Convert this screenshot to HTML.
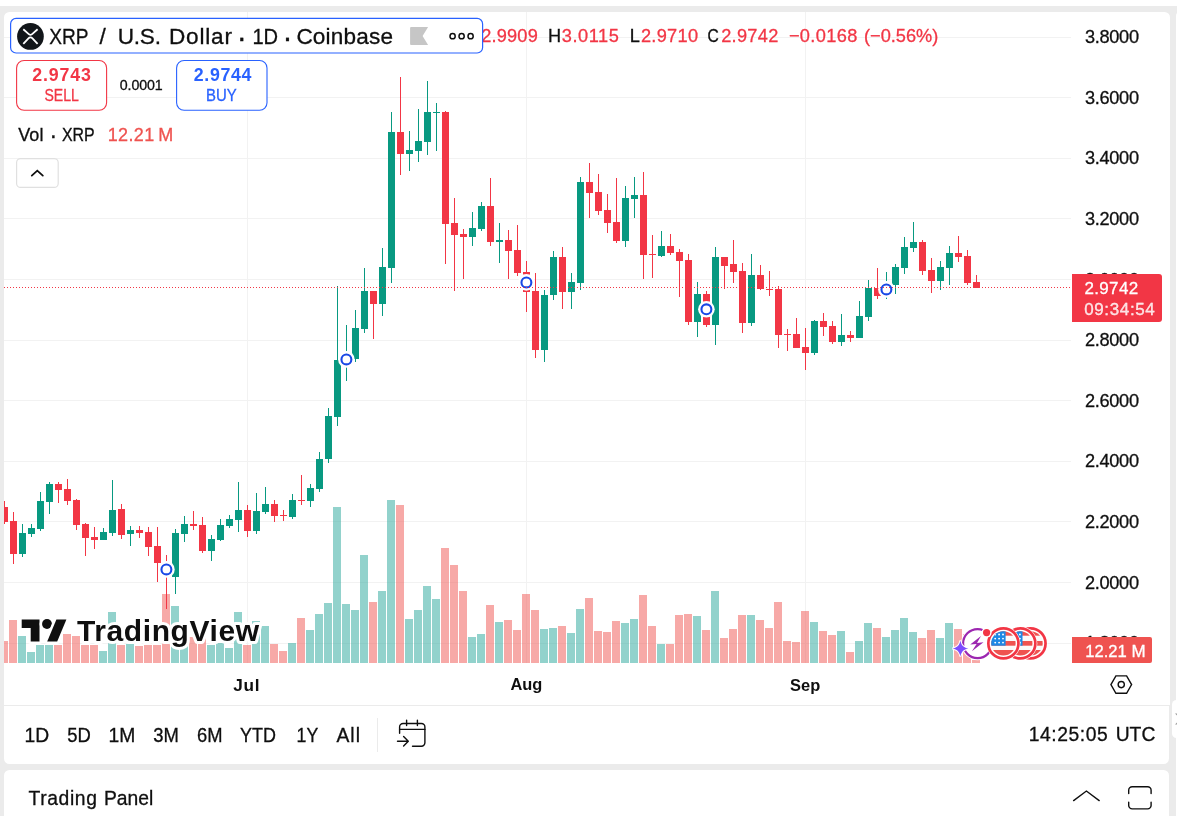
<!DOCTYPE html>
<html lang="en">
<head>
<meta charset="utf-8">
<title>XRPUSD Chart</title>
<style>
*{box-sizing:border-box;margin:0;padding:0}
html,body{width:1177px;height:816px;overflow:hidden;background:#ebebeb}
body{position:relative;font-family:"Liberation Sans","DejaVu Sans",sans-serif;color:#0f0f0f}
.abs{position:absolute}
#topstrip{left:0;top:0;width:1177px;height:6px;background:#fff}
#main{left:4px;top:12px;width:1166px;height:694px;background:#fff;border-radius:5.5px 5.5px 0 0}
#tool{left:4px;top:706px;width:1165px;height:58px;background:#fff;border-radius:0 0 5.5px 5.5px}
#bottom{left:4px;top:770px;width:1165px;height:60px;background:#fff;border-radius:5.5px}
#right{left:1176px;top:12px;width:10px;height:810px;background:#fff;border-radius:4px 0 0 0}
#handle{left:1171.7px;top:700.3px;width:10px;height:37.6px;background:#fff;border-radius:4.5px}
#chart{left:0;top:0}
#sep1{left:4px;top:705px;width:1165.5px;height:1px;background:#ebebeb}
#vsep{left:377px;top:718px;width:1px;height:34px;background:#ebebeb}
</style>
</head>
<body>
<div class="abs" id="topstrip"></div>
<div class="abs" id="main"></div>
<div class="abs" id="tool"></div>
<div class="abs" id="bottom"></div>
<div class="abs" id="right"></div>
<div class="abs" id="handle"></div>
<div class="abs" id="sep1"></div>
<div class="abs" id="vsep"></div>
<svg class="abs" id="chart" width="1177" height="816" viewBox="0 0 1177 816" font-family="'Liberation Sans','DejaVu Sans',sans-serif">
<g shape-rendering="crispEdges">
<rect x="4" y="37" width="1067" height="1" fill="#f2f2f2"/>
<rect x="4" y="97" width="1067" height="1" fill="#f2f2f2"/>
<rect x="4" y="158" width="1067" height="1" fill="#f2f2f2"/>
<rect x="4" y="218" width="1067" height="1" fill="#f2f2f2"/>
<rect x="4" y="279" width="1067" height="1" fill="#f2f2f2"/>
<rect x="4" y="340" width="1067" height="1" fill="#f2f2f2"/>
<rect x="4" y="400" width="1067" height="1" fill="#f2f2f2"/>
<rect x="4" y="461" width="1067" height="1" fill="#f2f2f2"/>
<rect x="4" y="521" width="1067" height="1" fill="#f2f2f2"/>
<rect x="4" y="582" width="1067" height="1" fill="#f2f2f2"/>
<rect x="4" y="643" width="1067" height="1" fill="#f2f2f2"/>
<rect x="247" y="12" width="1" height="651" fill="#f2f2f2"/>
<rect x="526" y="12" width="1" height="651" fill="#f2f2f2"/>
<rect x="805" y="12" width="1" height="651" fill="#f2f2f2"/>
<rect x="4" y="641" width="4" height="22" fill="#ef5350" fill-opacity="0.5"/>
<rect x="9" y="620" width="8" height="43" fill="#ef5350" fill-opacity="0.5"/>
<rect x="18" y="636" width="8" height="27" fill="#26a69a" fill-opacity="0.5"/>
<rect x="27" y="652" width="8" height="11" fill="#26a69a" fill-opacity="0.5"/>
<rect x="36" y="645" width="8" height="18" fill="#26a69a" fill-opacity="0.5"/>
<rect x="45" y="645" width="8" height="18" fill="#26a69a" fill-opacity="0.5"/>
<rect x="54" y="645" width="8" height="18" fill="#ef5350" fill-opacity="0.5"/>
<rect x="63" y="634" width="8" height="29" fill="#ef5350" fill-opacity="0.5"/>
<rect x="72" y="636" width="8" height="27" fill="#ef5350" fill-opacity="0.5"/>
<rect x="81" y="645" width="8" height="18" fill="#ef5350" fill-opacity="0.5"/>
<rect x="90" y="645" width="8" height="18" fill="#ef5350" fill-opacity="0.5"/>
<rect x="99" y="651" width="8" height="12" fill="#26a69a" fill-opacity="0.5"/>
<rect x="108" y="612" width="8" height="51" fill="#26a69a" fill-opacity="0.5"/>
<rect x="117" y="645" width="8" height="18" fill="#ef5350" fill-opacity="0.5"/>
<rect x="126" y="644" width="8" height="19" fill="#26a69a" fill-opacity="0.5"/>
<rect x="135" y="646" width="8" height="17" fill="#ef5350" fill-opacity="0.5"/>
<rect x="144" y="645" width="8" height="18" fill="#ef5350" fill-opacity="0.5"/>
<rect x="153" y="645" width="8" height="18" fill="#ef5350" fill-opacity="0.5"/>
<rect x="162" y="594" width="8" height="69" fill="#ef5350" fill-opacity="0.5"/>
<rect x="171" y="606" width="8" height="57" fill="#26a69a" fill-opacity="0.5"/>
<rect x="180" y="640" width="8" height="23" fill="#26a69a" fill-opacity="0.5"/>
<rect x="189" y="637" width="8" height="26" fill="#ef5350" fill-opacity="0.5"/>
<rect x="198" y="635" width="8" height="28" fill="#ef5350" fill-opacity="0.5"/>
<rect x="207" y="645" width="8" height="18" fill="#26a69a" fill-opacity="0.5"/>
<rect x="216" y="643" width="8" height="20" fill="#26a69a" fill-opacity="0.5"/>
<rect x="225" y="648" width="8" height="15" fill="#26a69a" fill-opacity="0.5"/>
<rect x="234" y="612" width="8" height="51" fill="#26a69a" fill-opacity="0.5"/>
<rect x="243" y="645" width="8" height="18" fill="#ef5350" fill-opacity="0.5"/>
<rect x="252" y="621" width="8" height="42" fill="#26a69a" fill-opacity="0.5"/>
<rect x="261" y="626" width="8" height="37" fill="#26a69a" fill-opacity="0.5"/>
<rect x="270" y="644" width="8" height="19" fill="#ef5350" fill-opacity="0.5"/>
<rect x="279" y="651" width="8" height="12" fill="#ef5350" fill-opacity="0.5"/>
<rect x="288" y="643" width="8" height="20" fill="#26a69a" fill-opacity="0.5"/>
<rect x="297" y="618" width="8" height="45" fill="#ef5350" fill-opacity="0.5"/>
<rect x="306" y="630" width="8" height="33" fill="#26a69a" fill-opacity="0.5"/>
<rect x="315" y="614" width="8" height="49" fill="#26a69a" fill-opacity="0.5"/>
<rect x="324" y="603" width="8" height="60" fill="#26a69a" fill-opacity="0.5"/>
<rect x="333" y="507" width="8" height="156" fill="#26a69a" fill-opacity="0.5"/>
<rect x="342" y="604" width="8" height="59" fill="#26a69a" fill-opacity="0.5"/>
<rect x="351" y="610" width="8" height="53" fill="#26a69a" fill-opacity="0.5"/>
<rect x="360" y="555" width="8" height="108" fill="#26a69a" fill-opacity="0.5"/>
<rect x="369" y="602" width="8" height="61" fill="#ef5350" fill-opacity="0.5"/>
<rect x="378" y="591" width="8" height="72" fill="#26a69a" fill-opacity="0.5"/>
<rect x="387" y="500" width="8" height="163" fill="#26a69a" fill-opacity="0.5"/>
<rect x="396" y="505" width="8" height="158" fill="#ef5350" fill-opacity="0.5"/>
<rect x="405" y="619" width="8" height="44" fill="#26a69a" fill-opacity="0.5"/>
<rect x="414" y="610" width="8" height="53" fill="#26a69a" fill-opacity="0.5"/>
<rect x="423" y="586" width="8" height="77" fill="#26a69a" fill-opacity="0.5"/>
<rect x="432" y="599" width="8" height="64" fill="#26a69a" fill-opacity="0.5"/>
<rect x="441" y="548" width="8" height="115" fill="#ef5350" fill-opacity="0.5"/>
<rect x="450" y="565" width="8" height="98" fill="#ef5350" fill-opacity="0.5"/>
<rect x="459" y="591" width="8" height="72" fill="#ef5350" fill-opacity="0.5"/>
<rect x="468" y="637" width="8" height="26" fill="#26a69a" fill-opacity="0.5"/>
<rect x="477" y="634" width="8" height="29" fill="#26a69a" fill-opacity="0.5"/>
<rect x="486" y="605" width="8" height="58" fill="#ef5350" fill-opacity="0.5"/>
<rect x="495" y="622" width="8" height="41" fill="#26a69a" fill-opacity="0.5"/>
<rect x="504" y="620" width="8" height="43" fill="#ef5350" fill-opacity="0.5"/>
<rect x="513" y="630" width="8" height="33" fill="#ef5350" fill-opacity="0.5"/>
<rect x="522" y="594" width="8" height="69" fill="#ef5350" fill-opacity="0.5"/>
<rect x="531" y="610" width="8" height="53" fill="#ef5350" fill-opacity="0.5"/>
<rect x="540" y="629" width="8" height="34" fill="#26a69a" fill-opacity="0.5"/>
<rect x="549" y="628" width="8" height="35" fill="#26a69a" fill-opacity="0.5"/>
<rect x="558" y="626" width="8" height="37" fill="#ef5350" fill-opacity="0.5"/>
<rect x="567" y="633" width="8" height="30" fill="#26a69a" fill-opacity="0.5"/>
<rect x="576" y="609" width="8" height="54" fill="#26a69a" fill-opacity="0.5"/>
<rect x="585" y="598" width="8" height="65" fill="#ef5350" fill-opacity="0.5"/>
<rect x="594" y="631" width="8" height="32" fill="#ef5350" fill-opacity="0.5"/>
<rect x="603" y="632" width="8" height="31" fill="#ef5350" fill-opacity="0.5"/>
<rect x="612" y="621" width="8" height="42" fill="#ef5350" fill-opacity="0.5"/>
<rect x="621" y="623" width="8" height="40" fill="#26a69a" fill-opacity="0.5"/>
<rect x="630" y="619" width="8" height="44" fill="#26a69a" fill-opacity="0.5"/>
<rect x="639" y="595" width="8" height="68" fill="#ef5350" fill-opacity="0.5"/>
<rect x="648" y="626" width="8" height="37" fill="#ef5350" fill-opacity="0.5"/>
<rect x="657" y="644" width="8" height="19" fill="#26a69a" fill-opacity="0.5"/>
<rect x="666" y="644" width="8" height="19" fill="#ef5350" fill-opacity="0.5"/>
<rect x="675" y="615" width="8" height="48" fill="#ef5350" fill-opacity="0.5"/>
<rect x="684" y="614" width="8" height="49" fill="#ef5350" fill-opacity="0.5"/>
<rect x="693" y="616" width="8" height="47" fill="#26a69a" fill-opacity="0.5"/>
<rect x="702" y="630" width="8" height="33" fill="#ef5350" fill-opacity="0.5"/>
<rect x="711" y="591" width="8" height="72" fill="#26a69a" fill-opacity="0.5"/>
<rect x="720" y="638" width="8" height="25" fill="#ef5350" fill-opacity="0.5"/>
<rect x="729" y="629" width="8" height="34" fill="#ef5350" fill-opacity="0.5"/>
<rect x="738" y="615" width="8" height="48" fill="#ef5350" fill-opacity="0.5"/>
<rect x="747" y="615" width="8" height="48" fill="#26a69a" fill-opacity="0.5"/>
<rect x="756" y="620" width="8" height="43" fill="#ef5350" fill-opacity="0.5"/>
<rect x="765" y="628" width="8" height="35" fill="#ef5350" fill-opacity="0.5"/>
<rect x="774" y="602" width="8" height="61" fill="#ef5350" fill-opacity="0.5"/>
<rect x="783" y="641" width="8" height="22" fill="#ef5350" fill-opacity="0.5"/>
<rect x="792" y="642" width="8" height="21" fill="#ef5350" fill-opacity="0.5"/>
<rect x="801" y="611" width="8" height="52" fill="#ef5350" fill-opacity="0.5"/>
<rect x="810" y="622" width="8" height="41" fill="#26a69a" fill-opacity="0.5"/>
<rect x="819" y="631" width="8" height="32" fill="#ef5350" fill-opacity="0.5"/>
<rect x="828" y="635" width="8" height="28" fill="#ef5350" fill-opacity="0.5"/>
<rect x="837" y="631" width="8" height="32" fill="#26a69a" fill-opacity="0.5"/>
<rect x="846" y="652" width="8" height="11" fill="#ef5350" fill-opacity="0.5"/>
<rect x="855" y="641" width="8" height="22" fill="#26a69a" fill-opacity="0.5"/>
<rect x="864" y="623" width="8" height="40" fill="#26a69a" fill-opacity="0.5"/>
<rect x="873" y="628" width="8" height="35" fill="#ef5350" fill-opacity="0.5"/>
<rect x="882" y="637" width="8" height="26" fill="#26a69a" fill-opacity="0.5"/>
<rect x="891" y="630" width="8" height="33" fill="#26a69a" fill-opacity="0.5"/>
<rect x="900" y="618" width="8" height="45" fill="#26a69a" fill-opacity="0.5"/>
<rect x="909" y="632" width="8" height="31" fill="#26a69a" fill-opacity="0.5"/>
<rect x="918" y="638" width="8" height="25" fill="#ef5350" fill-opacity="0.5"/>
<rect x="927" y="630" width="8" height="33" fill="#ef5350" fill-opacity="0.5"/>
<rect x="936" y="638" width="8" height="25" fill="#26a69a" fill-opacity="0.5"/>
<rect x="945" y="623" width="8" height="40" fill="#26a69a" fill-opacity="0.5"/>
<rect x="954" y="629" width="8" height="34" fill="#ef5350" fill-opacity="0.5"/>
<rect x="963" y="634" width="8" height="29" fill="#ef5350" fill-opacity="0.5"/>
<rect x="972" y="660" width="8" height="3" fill="#ef5350" fill-opacity="0.5"/>
<rect x="4" y="501" width="1" height="23" fill="#f23645"/>
<rect x="4" y="507" width="4" height="15" fill="#f23645"/>
<rect x="13" y="512" width="1" height="52" fill="#f23645"/>
<rect x="10" y="521" width="7" height="33" fill="#f23645"/>
<rect x="22" y="524" width="1" height="33" fill="#089981"/>
<rect x="19" y="533" width="7" height="21" fill="#089981"/>
<rect x="31" y="524" width="1" height="13" fill="#089981"/>
<rect x="28" y="528" width="7" height="6" fill="#089981"/>
<rect x="40" y="492" width="1" height="39" fill="#089981"/>
<rect x="37" y="501" width="7" height="28" fill="#089981"/>
<rect x="49" y="482" width="1" height="32" fill="#089981"/>
<rect x="46" y="484" width="7" height="18" fill="#089981"/>
<rect x="58" y="482" width="1" height="21" fill="#f23645"/>
<rect x="55" y="484" width="7" height="6" fill="#f23645"/>
<rect x="67" y="479" width="1" height="26" fill="#f23645"/>
<rect x="64" y="489" width="7" height="12" fill="#f23645"/>
<rect x="76" y="499" width="1" height="31" fill="#f23645"/>
<rect x="73" y="500" width="7" height="25" fill="#f23645"/>
<rect x="85" y="523" width="1" height="33" fill="#f23645"/>
<rect x="82" y="524" width="7" height="14" fill="#f23645"/>
<rect x="94" y="527" width="1" height="22" fill="#f23645"/>
<rect x="91" y="537" width="7" height="3" fill="#f23645"/>
<rect x="103" y="528" width="1" height="12" fill="#089981"/>
<rect x="100" y="532" width="7" height="8" fill="#089981"/>
<rect x="112" y="480" width="1" height="56" fill="#089981"/>
<rect x="109" y="510" width="7" height="23" fill="#089981"/>
<rect x="121" y="504" width="1" height="35" fill="#f23645"/>
<rect x="118" y="509" width="7" height="26" fill="#f23645"/>
<rect x="130" y="526" width="1" height="20" fill="#089981"/>
<rect x="127" y="530" width="7" height="4" fill="#089981"/>
<rect x="139" y="526" width="1" height="12" fill="#f23645"/>
<rect x="136" y="530" width="7" height="3" fill="#f23645"/>
<rect x="148" y="527" width="1" height="29" fill="#f23645"/>
<rect x="145" y="532" width="7" height="15" fill="#f23645"/>
<rect x="157" y="527" width="1" height="55" fill="#f23645"/>
<rect x="154" y="546" width="7" height="17" fill="#f23645"/>
<rect x="166" y="555" width="1" height="54" fill="#f23645"/>
<rect x="163" y="566" width="7" height="7" fill="#f23645"/>
<rect x="175" y="529" width="1" height="65" fill="#089981"/>
<rect x="172" y="533" width="7" height="44" fill="#089981"/>
<rect x="184" y="516" width="1" height="26" fill="#089981"/>
<rect x="181" y="524" width="7" height="10" fill="#089981"/>
<rect x="193" y="511" width="1" height="19" fill="#f23645"/>
<rect x="190" y="524" width="7" height="2" fill="#f23645"/>
<rect x="202" y="517" width="1" height="36" fill="#f23645"/>
<rect x="199" y="525" width="7" height="26" fill="#f23645"/>
<rect x="211" y="535" width="1" height="26" fill="#089981"/>
<rect x="208" y="539" width="7" height="12" fill="#089981"/>
<rect x="220" y="519" width="1" height="22" fill="#089981"/>
<rect x="217" y="525" width="7" height="15" fill="#089981"/>
<rect x="229" y="515" width="1" height="13" fill="#089981"/>
<rect x="226" y="519" width="7" height="7" fill="#089981"/>
<rect x="238" y="482" width="1" height="50" fill="#089981"/>
<rect x="235" y="510" width="7" height="10" fill="#089981"/>
<rect x="247" y="505" width="1" height="32" fill="#f23645"/>
<rect x="244" y="510" width="7" height="21" fill="#f23645"/>
<rect x="256" y="493" width="1" height="41" fill="#089981"/>
<rect x="253" y="511" width="7" height="20" fill="#089981"/>
<rect x="265" y="487" width="1" height="27" fill="#089981"/>
<rect x="262" y="504" width="7" height="8" fill="#089981"/>
<rect x="274" y="500" width="1" height="22" fill="#f23645"/>
<rect x="271" y="504" width="7" height="12" fill="#f23645"/>
<rect x="283" y="510" width="1" height="11" fill="#f23645"/>
<rect x="280" y="515" width="7" height="1" fill="#f23645"/>
<rect x="292" y="494" width="1" height="25" fill="#089981"/>
<rect x="289" y="500" width="7" height="17" fill="#089981"/>
<rect x="301" y="475" width="1" height="30" fill="#f23645"/>
<rect x="298" y="500" width="7" height="1" fill="#f23645"/>
<rect x="310" y="484" width="1" height="23" fill="#089981"/>
<rect x="307" y="488" width="7" height="13" fill="#089981"/>
<rect x="319" y="452" width="1" height="40" fill="#089981"/>
<rect x="316" y="459" width="7" height="30" fill="#089981"/>
<rect x="328" y="408" width="1" height="55" fill="#089981"/>
<rect x="325" y="416" width="7" height="43" fill="#089981"/>
<rect x="337" y="286" width="1" height="140" fill="#089981"/>
<rect x="334" y="360" width="7" height="57" fill="#089981"/>
<rect x="346" y="325" width="1" height="56" fill="#089981"/>
<rect x="343" y="356" width="7" height="7" fill="#089981"/>
<rect x="355" y="310" width="1" height="52" fill="#089981"/>
<rect x="352" y="328" width="7" height="31" fill="#089981"/>
<rect x="364" y="268" width="1" height="65" fill="#089981"/>
<rect x="361" y="291" width="7" height="38" fill="#089981"/>
<rect x="373" y="291" width="1" height="48" fill="#f23645"/>
<rect x="370" y="291" width="7" height="13" fill="#f23645"/>
<rect x="382" y="248" width="1" height="68" fill="#089981"/>
<rect x="379" y="267" width="7" height="37" fill="#089981"/>
<rect x="391" y="112" width="1" height="171" fill="#089981"/>
<rect x="388" y="132" width="7" height="136" fill="#089981"/>
<rect x="400" y="77" width="1" height="98" fill="#f23645"/>
<rect x="397" y="132" width="7" height="22" fill="#f23645"/>
<rect x="409" y="131" width="1" height="40" fill="#089981"/>
<rect x="406" y="150" width="7" height="4" fill="#089981"/>
<rect x="418" y="109" width="1" height="53" fill="#089981"/>
<rect x="415" y="141" width="7" height="10" fill="#089981"/>
<rect x="427" y="81" width="1" height="74" fill="#089981"/>
<rect x="424" y="112" width="7" height="30" fill="#089981"/>
<rect x="436" y="103" width="1" height="48" fill="#089981"/>
<rect x="433" y="112" width="7" height="1" fill="#089981"/>
<rect x="445" y="111" width="1" height="153" fill="#f23645"/>
<rect x="442" y="112" width="7" height="112" fill="#f23645"/>
<rect x="454" y="198" width="1" height="93" fill="#f23645"/>
<rect x="451" y="223" width="7" height="12" fill="#f23645"/>
<rect x="463" y="229" width="1" height="50" fill="#f23645"/>
<rect x="460" y="234" width="7" height="3" fill="#f23645"/>
<rect x="472" y="212" width="1" height="34" fill="#089981"/>
<rect x="469" y="228" width="7" height="9" fill="#089981"/>
<rect x="481" y="202" width="1" height="29" fill="#089981"/>
<rect x="478" y="206" width="7" height="23" fill="#089981"/>
<rect x="490" y="178" width="1" height="68" fill="#f23645"/>
<rect x="487" y="206" width="7" height="36" fill="#f23645"/>
<rect x="499" y="223" width="1" height="40" fill="#089981"/>
<rect x="496" y="240" width="7" height="2" fill="#089981"/>
<rect x="508" y="230" width="1" height="49" fill="#f23645"/>
<rect x="505" y="240" width="7" height="11" fill="#f23645"/>
<rect x="517" y="225" width="1" height="51" fill="#f23645"/>
<rect x="514" y="250" width="7" height="23" fill="#f23645"/>
<rect x="526" y="261" width="1" height="51" fill="#f23645"/>
<rect x="523" y="272" width="7" height="20" fill="#f23645"/>
<rect x="535" y="273" width="1" height="85" fill="#f23645"/>
<rect x="532" y="291" width="7" height="59" fill="#f23645"/>
<rect x="544" y="290" width="1" height="72" fill="#089981"/>
<rect x="541" y="295" width="7" height="55" fill="#089981"/>
<rect x="553" y="251" width="1" height="49" fill="#089981"/>
<rect x="550" y="257" width="7" height="38" fill="#089981"/>
<rect x="562" y="247" width="1" height="62" fill="#f23645"/>
<rect x="559" y="257" width="7" height="35" fill="#f23645"/>
<rect x="571" y="273" width="1" height="36" fill="#089981"/>
<rect x="568" y="282" width="7" height="10" fill="#089981"/>
<rect x="580" y="177" width="1" height="113" fill="#089981"/>
<rect x="577" y="182" width="7" height="101" fill="#089981"/>
<rect x="589" y="163" width="1" height="55" fill="#f23645"/>
<rect x="586" y="182" width="7" height="11" fill="#f23645"/>
<rect x="598" y="174" width="1" height="41" fill="#f23645"/>
<rect x="595" y="192" width="7" height="19" fill="#f23645"/>
<rect x="607" y="194" width="1" height="39" fill="#f23645"/>
<rect x="604" y="210" width="7" height="13" fill="#f23645"/>
<rect x="616" y="178" width="1" height="65" fill="#f23645"/>
<rect x="613" y="222" width="7" height="19" fill="#f23645"/>
<rect x="625" y="186" width="1" height="61" fill="#089981"/>
<rect x="622" y="198" width="7" height="43" fill="#089981"/>
<rect x="634" y="177" width="1" height="41" fill="#089981"/>
<rect x="631" y="195" width="7" height="4" fill="#089981"/>
<rect x="643" y="172" width="1" height="107" fill="#f23645"/>
<rect x="640" y="195" width="7" height="60" fill="#f23645"/>
<rect x="652" y="235" width="1" height="43" fill="#f23645"/>
<rect x="649" y="254" width="7" height="1" fill="#f23645"/>
<rect x="661" y="231" width="1" height="26" fill="#089981"/>
<rect x="658" y="246" width="7" height="10" fill="#089981"/>
<rect x="670" y="234" width="1" height="21" fill="#f23645"/>
<rect x="667" y="246" width="7" height="7" fill="#f23645"/>
<rect x="679" y="249" width="1" height="48" fill="#f23645"/>
<rect x="676" y="252" width="7" height="9" fill="#f23645"/>
<rect x="688" y="254" width="1" height="71" fill="#f23645"/>
<rect x="685" y="260" width="7" height="62" fill="#f23645"/>
<rect x="697" y="282" width="1" height="55" fill="#089981"/>
<rect x="694" y="294" width="7" height="28" fill="#089981"/>
<rect x="706" y="291" width="1" height="36" fill="#f23645"/>
<rect x="703" y="294" width="7" height="31" fill="#f23645"/>
<rect x="715" y="247" width="1" height="98" fill="#089981"/>
<rect x="712" y="257" width="7" height="68" fill="#089981"/>
<rect x="724" y="257" width="1" height="32" fill="#f23645"/>
<rect x="721" y="257" width="7" height="9" fill="#f23645"/>
<rect x="733" y="240" width="1" height="43" fill="#f23645"/>
<rect x="730" y="264" width="7" height="8" fill="#f23645"/>
<rect x="742" y="263" width="1" height="70" fill="#f23645"/>
<rect x="739" y="271" width="7" height="52" fill="#f23645"/>
<rect x="751" y="254" width="1" height="72" fill="#089981"/>
<rect x="748" y="275" width="7" height="48" fill="#089981"/>
<rect x="760" y="265" width="1" height="25" fill="#f23645"/>
<rect x="757" y="275" width="7" height="14" fill="#f23645"/>
<rect x="769" y="271" width="1" height="25" fill="#f23645"/>
<rect x="766" y="289" width="7" height="1" fill="#f23645"/>
<rect x="778" y="286" width="1" height="62" fill="#f23645"/>
<rect x="775" y="289" width="7" height="46" fill="#f23645"/>
<rect x="787" y="329" width="1" height="22" fill="#f23645"/>
<rect x="784" y="334" width="7" height="1" fill="#f23645"/>
<rect x="796" y="318" width="1" height="30" fill="#f23645"/>
<rect x="793" y="334" width="7" height="14" fill="#f23645"/>
<rect x="805" y="328" width="1" height="42" fill="#f23645"/>
<rect x="802" y="347" width="7" height="6" fill="#f23645"/>
<rect x="814" y="320" width="1" height="35" fill="#089981"/>
<rect x="811" y="321" width="7" height="32" fill="#089981"/>
<rect x="823" y="313" width="1" height="23" fill="#f23645"/>
<rect x="820" y="321" width="7" height="6" fill="#f23645"/>
<rect x="832" y="321" width="1" height="23" fill="#f23645"/>
<rect x="829" y="326" width="7" height="16" fill="#f23645"/>
<rect x="841" y="314" width="1" height="32" fill="#089981"/>
<rect x="838" y="335" width="7" height="7" fill="#089981"/>
<rect x="850" y="331" width="1" height="11" fill="#f23645"/>
<rect x="847" y="335" width="7" height="3" fill="#f23645"/>
<rect x="859" y="301" width="1" height="37" fill="#089981"/>
<rect x="856" y="316" width="7" height="22" fill="#089981"/>
<rect x="868" y="280" width="1" height="41" fill="#089981"/>
<rect x="865" y="288" width="7" height="29" fill="#089981"/>
<rect x="877" y="268" width="1" height="31" fill="#f23645"/>
<rect x="874" y="288" width="7" height="8" fill="#f23645"/>
<rect x="886" y="272" width="1" height="27" fill="#089981"/>
<rect x="883" y="287" width="7" height="5" fill="#089981"/>
<rect x="895" y="264" width="1" height="30" fill="#089981"/>
<rect x="892" y="267" width="7" height="18" fill="#089981"/>
<rect x="904" y="237" width="1" height="37" fill="#089981"/>
<rect x="901" y="247" width="7" height="21" fill="#089981"/>
<rect x="913" y="222" width="1" height="30" fill="#089981"/>
<rect x="910" y="242" width="7" height="6" fill="#089981"/>
<rect x="922" y="240" width="1" height="35" fill="#f23645"/>
<rect x="919" y="242" width="7" height="29" fill="#f23645"/>
<rect x="931" y="258" width="1" height="35" fill="#f23645"/>
<rect x="928" y="270" width="7" height="11" fill="#f23645"/>
<rect x="940" y="261" width="1" height="29" fill="#089981"/>
<rect x="937" y="267" width="7" height="14" fill="#089981"/>
<rect x="949" y="246" width="1" height="39" fill="#089981"/>
<rect x="946" y="253" width="7" height="15" fill="#089981"/>
<rect x="958" y="236" width="1" height="26" fill="#f23645"/>
<rect x="955" y="253" width="7" height="4" fill="#f23645"/>
<rect x="967" y="250" width="1" height="35" fill="#f23645"/>
<rect x="964" y="256" width="7" height="27" fill="#f23645"/>
<rect x="976" y="275" width="1" height="13" fill="#f23645"/>
<rect x="973" y="282" width="7" height="6" fill="#f23645"/>
</g>
<!-- event markers -->
<g fill="#fff" stroke="none">
<circle cx="166.4" cy="569.4" r="8.3"/><circle cx="346.4" cy="359.4" r="8.3"/><circle cx="526.4" cy="282.4" r="8.3"/><circle cx="706.4" cy="309.3" r="8.3"/><circle cx="886.4" cy="289.4" r="8.3"/>
</g>
<g fill="#fff" stroke="#1848e6" stroke-width="2.1">
<circle cx="166.4" cy="569.4" r="4.95"/><circle cx="346.4" cy="359.4" r="4.95"/><circle cx="526.4" cy="282.4" r="4.95"/><circle cx="706.4" cy="309.3" r="4.95"/><circle cx="886.4" cy="289.4" r="4.95"/>
</g>
<!-- current price dotted line -->
<line x1="4" y1="287.5" x2="1072" y2="287.5" stroke="#f23645" stroke-width="1" stroke-dasharray="1 2" shape-rendering="crispEdges"/>
<text id="m_p0" x="1084.90" y="43.10" font-size="18.20" letter-spacing="-0.30" fill="#0f0f0f" stroke="#0f0f0f" stroke-width="0.3">3.8000</text>
<text id="m_p1" x="1084.90" y="103.70" font-size="18.20" letter-spacing="-0.30" fill="#0f0f0f" stroke="#0f0f0f" stroke-width="0.3">3.6000</text>
<text id="m_p2" x="1084.90" y="164.30" font-size="18.20" letter-spacing="-0.30" fill="#0f0f0f" stroke="#0f0f0f" stroke-width="0.3">3.4000</text>
<text id="m_p3" x="1084.90" y="224.90" font-size="18.20" letter-spacing="-0.30" fill="#0f0f0f" stroke="#0f0f0f" stroke-width="0.3">3.2000</text>
<text id="m_p4" x="1084.90" y="285.50" font-size="18.20" letter-spacing="-0.30" fill="#0f0f0f" stroke="#0f0f0f" stroke-width="0.3">3.0000</text>
<text id="m_p5" x="1084.90" y="346.10" font-size="18.20" letter-spacing="-0.30" fill="#0f0f0f" stroke="#0f0f0f" stroke-width="0.3">2.8000</text>
<text id="m_p6" x="1084.90" y="406.70" font-size="18.20" letter-spacing="-0.30" fill="#0f0f0f" stroke="#0f0f0f" stroke-width="0.3">2.6000</text>
<text id="m_p7" x="1084.90" y="467.30" font-size="18.20" letter-spacing="-0.30" fill="#0f0f0f" stroke="#0f0f0f" stroke-width="0.3">2.4000</text>
<text id="m_p8" x="1084.90" y="527.90" font-size="18.20" letter-spacing="-0.30" fill="#0f0f0f" stroke="#0f0f0f" stroke-width="0.3">2.2000</text>
<text id="m_p9" x="1084.90" y="588.50" font-size="18.20" letter-spacing="-0.30" fill="#0f0f0f" stroke="#0f0f0f" stroke-width="0.3">2.0000</text>
<text id="m_p10" x="1084.90" y="649.10" font-size="18.20" letter-spacing="-0.30" fill="#0f0f0f" stroke="#0f0f0f" stroke-width="0.3">1.8000</text>
<!-- price label -->
<path d="M1072 274H1159a3 3 0 0 1 3 3V319a3 3 0 0 1-3 3H1072z" fill="#f23645"/>
<!-- volume label -->
<path d="M1072 637H1150a2 2 0 0 1 2 2V661a2 2 0 0 1-2 2H1072z" fill="#ef5350"/>
<!-- settings hexagon -->
<g fill="none" stroke="#0f0f0f" stroke-width="1.4" stroke-linejoin="miter">
<path d="M1110.9 684.6L1115.9 675.9H1126.6L1131.6 684.6L1126.6 693.3H1115.9z"/>
<circle cx="1121.25" cy="684.6" r="3.1"/>
</g>
<!-- TradingView logo -->
<g stroke="#fff" stroke-width="5" stroke-linejoin="round" fill="#0f0f0f" paint-order="stroke">
<path d="M39.5 641.5H30.7V628.1H21.7V619.4H39.5z"/>
<circle cx="47" cy="624" r="4.95"/>
<path d="M57.2 641.5H47.2L56.4 619.4H66.4z"/>
<text x="77" y="641" font-size="30" font-weight="bold" letter-spacing="0.6" stroke-width="6">TradingView</text>
</g>
<!-- bottom right widgets -->
<g>
<circle cx="977.6" cy="643.6" r="16.6" fill="#fff"/>
<circle cx="977.6" cy="643.6" r="14.5" fill="#fff" stroke="#9c27b0" stroke-width="2.2"/>
<path d="M981 635.9L970.2 644.6L976.6 644L971.9 651.3L983.5 642.3L977 643z" fill="#9c27b0"/>
<circle cx="1030.5" cy="643.4" r="17" fill="#fff"/>
<circle cx="1030.5" cy="643.4" r="12.2" fill="#fafafa"/>
<clipPath id="fc3"><circle cx="1030.5" cy="643.4" r="12.2"/></clipPath>
<g clip-path="url(#fc3)">
<rect x="1018.1" y="631.0" width="25" height="4.7" fill="#ef5350"/>
<rect x="1018.1" y="641.0" width="25" height="4.7" fill="#ef5350"/>
<rect x="1018.1" y="650.0" width="25" height="6" fill="#ef5350"/>
</g>
<circle cx="1030.5" cy="643.4" r="15.05" fill="none" stroke="#f23645" stroke-width="2.7"/>
<circle cx="1020.3" cy="643.4" r="17" fill="#fff"/>
<circle cx="1020.3" cy="643.4" r="12.2" fill="#fafafa"/>
<clipPath id="fc2"><circle cx="1020.3" cy="643.4" r="12.2"/></clipPath>
<g clip-path="url(#fc2)">
<rect x="1007.9" y="631.0" width="25" height="4.7" fill="#ef5350"/>
<rect x="1007.9" y="641.0" width="25" height="4.7" fill="#ef5350"/>
<rect x="1007.9" y="650.0" width="25" height="6" fill="#ef5350"/>
<rect x="1007.9" y="631.0" width="14.6" height="14.7" fill="#1e88e5"/>
<g fill="#fff">
<circle cx="1012.1" cy="634.5" r="0.95"/>
<circle cx="1012.1" cy="638.6" r="0.95"/>
<circle cx="1012.1" cy="642.6" r="0.95"/>
<circle cx="1016.0" cy="634.5" r="0.95"/>
<circle cx="1016.0" cy="638.6" r="0.95"/>
<circle cx="1016.0" cy="642.6" r="0.95"/>
<circle cx="1019.9" cy="634.5" r="0.95"/>
<circle cx="1019.9" cy="638.6" r="0.95"/>
<circle cx="1019.9" cy="642.6" r="0.95"/>
</g>
</g>
<circle cx="1020.3" cy="643.4" r="15.05" fill="none" stroke="#f23645" stroke-width="2.7"/>
<circle cx="1003.4" cy="643.4" r="17" fill="#fff"/>
<circle cx="1003.4" cy="643.4" r="12.2" fill="#fafafa"/>
<clipPath id="fc1"><circle cx="1003.4" cy="643.4" r="12.2"/></clipPath>
<g clip-path="url(#fc1)">
<rect x="991.0" y="631.0" width="25" height="4.7" fill="#ef5350"/>
<rect x="991.0" y="641.0" width="25" height="4.7" fill="#ef5350"/>
<rect x="991.0" y="650.0" width="25" height="6" fill="#ef5350"/>
<rect x="991.0" y="631.0" width="14.6" height="14.7" fill="#1e88e5"/>
<g fill="#fff">
<circle cx="995.2" cy="634.5" r="0.95"/>
<circle cx="995.2" cy="638.6" r="0.95"/>
<circle cx="995.2" cy="642.6" r="0.95"/>
<circle cx="999.1" cy="634.5" r="0.95"/>
<circle cx="999.1" cy="638.6" r="0.95"/>
<circle cx="999.1" cy="642.6" r="0.95"/>
<circle cx="1003.0" cy="634.5" r="0.95"/>
<circle cx="1003.0" cy="638.6" r="0.95"/>
<circle cx="1003.0" cy="642.6" r="0.95"/>
</g>
</g>
<circle cx="1003.4" cy="643.4" r="15.05" fill="none" stroke="#f23645" stroke-width="2.7"/>
<!-- sparkle -->
<path d="M960.4 640.4C961.4 645.4 963.3 647.4 968.4 648.5C963.3 649.6 961.4 651.6 960.4 656.6C959.4 651.6 957.5 649.6 952.4 648.5C957.5 647.4 959.4 645.4 960.4 640.4z" fill="#7c4dff" stroke="#fff" stroke-width="1.8" paint-order="stroke"/>
<!-- red dot -->
<circle cx="986.6" cy="632.6" r="5" fill="#fff"/>
<circle cx="986.6" cy="632.6" r="3.6" fill="#f23645"/>
</g>
<text id="m_oO" x="467.20" y="42.40" font-size="18.20" fill="#0f0f0f" stroke="#0f0f0f" stroke-width="0.3">O</text>
<text id="m_o1" x="481.24" y="42.40" font-size="18.20" letter-spacing="0.18" fill="#f23645" stroke="#f23645" stroke-width="0.3">2.9909</text>
<rect x="16.6" y="60.5" width="90" height="49.8" rx="7.5" fill="#fff" stroke="#f23645" stroke-width="1.1"/>
<rect x="176.6" y="60.5" width="90.4" height="49.8" rx="7.5" fill="#fff" stroke="#2962ff" stroke-width="1.1"/>
<rect x="10.6" y="18.4" width="472" height="34.6" rx="5.5" fill="#fff" stroke="#2962ff" stroke-width="1.2"/>
<!-- XRP icon -->
<circle cx="30.45" cy="36.45" r="13.35" fill="#12161a"/>
<g fill="none" stroke="#fff" stroke-width="1.8">
<path d="M23.3 29.3L28.2 33.6Q30.45 36 32.7 33.6L37.6 29.3"/>
<path d="M23.3 43.9L28.2 38.6Q30.45 36.2 32.7 38.6L37.6 43.9"/>
</g>
<!-- legend flag + dots -->
<path d="M411 27.1H428.1L422.6 36L428.1 44.9H411A1 1 0 0 1 410.1 44V28A1 1 0 0 1 411 27.1z" fill="#c6c6c6"/>
<g fill="none" stroke="#0f0f0f" stroke-width="1.5"><circle cx="452.6" cy="36.2" r="2.6"/><circle cx="461.6" cy="36.2" r="2.6"/><circle cx="470.6" cy="36.2" r="2.6"/></g>
<rect x="16.6" y="158.6" width="41.6" height="28.8" rx="4" fill="#fff" stroke="#e0e0e0" stroke-width="1.2"/>
<!-- collapse chevron -->
<path d="M31.8 175.6L37.3 170.6L42.8 175.6" fill="none" stroke="#0f0f0f" stroke-width="1.8" stroke-linecap="round" stroke-linejoin="miter"/>
<!-- calendar icon -->
<g fill="none" stroke="#0f0f0f" stroke-width="1.4" stroke-linecap="round" stroke-linejoin="round">
<path d="M399.6 733.3V727A3.5 3.5 0 0 1 403.1 723.5H421.4A3.5 3.5 0 0 1 424.9 727V742.8A3.5 3.5 0 0 1 421.4 746.3H412.5"/>
<path d="M399.6 729.4H424.9M406.6 720.3V725.6M417.4 720.3V725.6"/>
<path d="M397.5 741.3H408M403.6 736.6L408.3 741.3L403.6 746"/>
</g>
<!-- bottom panel icons -->
<g fill="none" stroke="#0f0f0f" stroke-width="1.4" stroke-linecap="round" stroke-linejoin="miter">
<path d="M1073.6 800.6L1086.4 791L1099.2 800.6"/>
<path d="M1128.7 793.5V790.2A3.5 3.5 0 0 1 1132.2 786.7H1147.6A3.5 3.5 0 0 1 1151.1 790.2V793.5M1128.7 802.3V805.4A3.5 3.5 0 0 0 1132.2 808.9H1147.6A3.5 3.5 0 0 0 1151.1 805.4V802.3"/>
</g>
<!-- right handle arrows -->
<g fill="#9a9a9a"><path d="M1175 713.5h3v3z"/><path d="M1175 724.5h3v-3z"/></g>

<g id="texts">
<text id="m_t1" transform="translate(49.30 44.30) scale(0.845 1)" font-size="22.60" fill="#0f0f0f" stroke="#0f0f0f" stroke-width="0.3">XRP</text>
<text id="m_t2" x="99.40" y="44.30" font-size="22.60" fill="#0f0f0f" stroke="#0f0f0f" stroke-width="0.3">/</text>
<text id="m_t3" x="117.80" y="44.30" font-size="22.60" letter-spacing="-0.27" fill="#0f0f0f" stroke="#0f0f0f" stroke-width="0.3">U.S.</text>
<text id="m_t4" x="169.00" y="44.30" font-size="22.60" letter-spacing="0.78" fill="#0f0f0f" stroke="#0f0f0f" stroke-width="0.3">Dollar</text>
<text id="m_t5" x="236.86" y="47.00" font-size="30.00" fill="#0f0f0f" stroke="#0f0f0f" stroke-width="0.3">·</text>
<text id="m_t6" transform="translate(252.38 44.30) scale(0.891 1)" font-size="22.60" fill="#0f0f0f" stroke="#0f0f0f" stroke-width="0.3">1D</text>
<text id="m_t7" x="282.52" y="47.00" font-size="30.00" fill="#0f0f0f" stroke="#0f0f0f" stroke-width="0.3">·</text>
<text id="m_t8" x="296.40" y="44.30" font-size="22.60" letter-spacing="0.16" fill="#0f0f0f" stroke="#0f0f0f" stroke-width="0.3">Coinbase</text>
<text id="m_sp" x="32.20" y="80.80" font-size="17.80" font-weight="bold" letter-spacing="0.85" fill="#f23645">2.9743</text>
<text id="m_sl" transform="translate(44.42 100.80) scale(0.888 1)" font-size="15.80" fill="#f23645" stroke="#f23645" stroke-width="0.3">SELL</text>
<text id="m_bp" x="193.80" y="80.80" font-size="17.80" font-weight="bold" letter-spacing="0.64" fill="#2962ff">2.9744</text>
<text id="m_bl" transform="translate(206.00 100.80) scale(0.946 1)" font-size="15.80" fill="#2962ff" stroke="#2962ff" stroke-width="0.3">BUY</text>
<text id="m_spr" x="119.80" y="90.30" font-size="14.20" letter-spacing="-0.10" fill="#0f0f0f" stroke="#0f0f0f" stroke-width="0.3">0.0001</text>
<text id="m_v1" x="18.37" y="141.30" font-size="18.00" fill="#0f0f0f" stroke="#0f0f0f" stroke-width="0.3">Vol</text>
<text id="m_v2" x="49.43" y="142.60" font-size="23.00" fill="#0f0f0f" stroke="#0f0f0f" stroke-width="0.3">·</text>
<text id="m_v3" transform="translate(62.00 140.86) scale(0.885 1)" font-size="18.00" fill="#0f0f0f" stroke="#0f0f0f" stroke-width="0.3">XRP</text>
<text id="m_v4" x="107.76" y="140.86" font-size="18.00" letter-spacing="0.34" fill="#ef5350" stroke="#ef5350" stroke-width="0.3">12.21</text>
<text id="m_v5" x="158.30" y="140.86" font-size="18.00" fill="#ef5350" stroke="#ef5350" stroke-width="0.3">M</text>
<text id="m_oH" x="547.90" y="42.40" font-size="18.20" fill="#0f0f0f" stroke="#0f0f0f" stroke-width="0.3">H</text>
<text id="m_o2" x="561.80" y="42.40" font-size="18.20" letter-spacing="0.56" fill="#f23645" stroke="#f23645" stroke-width="0.3">3.0115</text>
<text id="m_oL" x="629.70" y="42.40" font-size="18.20" fill="#0f0f0f" stroke="#0f0f0f" stroke-width="0.3">L</text>
<text id="m_o3" x="640.90" y="42.40" font-size="18.20" letter-spacing="0.30" fill="#f23645" stroke="#f23645" stroke-width="0.3">2.9710</text>
<text id="m_oC" transform="translate(707.50 42.40) scale(0.858 1)" font-size="18.20" fill="#0f0f0f" stroke="#0f0f0f" stroke-width="0.3">C</text>
<text id="m_o4" x="721.20" y="42.40" font-size="18.20" letter-spacing="0.30" fill="#f23645" stroke="#f23645" stroke-width="0.3">2.9742</text>
<text id="m_o5" x="788.90" y="42.40" font-size="18.20" letter-spacing="0.36" fill="#f23645" stroke="#f23645" stroke-width="0.3">−0.0168</text>
<text id="m_o6" x="864.00" y="42.20" font-size="18.20" fill="#f23645" stroke="#f23645" stroke-width="0.3">(−0.56%)</text>
<text id="m_pl1" x="1084.40" y="294.00" font-size="17.00" letter-spacing="0.35" fill="#ffffff" stroke="#ffffff" stroke-width="0.3">2.9742</text>
<text id="m_pl2" x="1084.20" y="314.70" font-size="17.00" letter-spacing="0.63" fill="#ffffff" fill-opacity="0.82" stroke="#ffffff" stroke-width="0.3">09:34:54</text>
<text id="m_vl1" transform="translate(1085.20 657.10) scale(0.978 1)" font-size="17.00" fill="#ffffff" stroke="#ffffff" stroke-width="0.3">12.21</text>
<text id="m_vl2" x="1131.50" y="657.10" font-size="17.00" fill="#ffffff" stroke="#ffffff" stroke-width="0.3">M</text>
<text id="m_m1" x="233.30" y="690.80" font-size="17.20" font-weight="bold" letter-spacing="0.64" fill="#0f0f0f">Jul</text>
<text id="m_m2" transform="translate(510.46 690.06) scale(0.955 1)" font-size="17.20" font-weight="bold" fill="#0f0f0f">Aug</text>
<text id="m_m3" transform="translate(790.10 690.70) scale(0.956 1)" font-size="17.20" font-weight="bold" fill="#0f0f0f">Sep</text>
<text id="m_r1" x="24.57" y="741.60" font-size="19.30" fill="#0f0f0f" stroke="#0f0f0f" stroke-width="0.3">1D</text>
<text id="m_r2" transform="translate(67.20 741.60) scale(0.956 1)" font-size="19.30" fill="#0f0f0f" stroke="#0f0f0f" stroke-width="0.3">5D</text>
<text id="m_r3" x="108.57" y="741.60" font-size="19.30" fill="#0f0f0f" stroke="#0f0f0f" stroke-width="0.3">1M</text>
<text id="m_r4" transform="translate(153.20 741.60) scale(0.955 1)" font-size="19.30" fill="#0f0f0f" stroke="#0f0f0f" stroke-width="0.3">3M</text>
<text id="m_r5" transform="translate(197.04 741.60) scale(0.951 1)" font-size="19.30" fill="#0f0f0f" stroke="#0f0f0f" stroke-width="0.3">6M</text>
<text id="m_r6" transform="translate(240.10 741.60) scale(0.931 1)" font-size="19.30" fill="#0f0f0f" stroke="#0f0f0f" stroke-width="0.3">YTD</text>
<text id="m_r7" transform="translate(296.60 741.60) scale(0.918 1)" font-size="19.30" fill="#0f0f0f" stroke="#0f0f0f" stroke-width="0.3">1Y</text>
<text id="m_r8" x="336.40" y="741.80" font-size="19.30" letter-spacing="1.08" fill="#0f0f0f" stroke="#0f0f0f" stroke-width="0.3">All</text>
<text id="m_ck1" x="1028.80" y="741.40" font-size="19.30" letter-spacing="0.54" fill="#0f0f0f" stroke="#0f0f0f" stroke-width="0.3">14:25:05</text>
<text id="m_ck2" x="1115.70" y="741.40" font-size="19.30" fill="#0f0f0f" stroke="#0f0f0f" stroke-width="0.3">UTC</text>
<text id="m_tp1" x="28.58" y="805.20" font-size="19.30" letter-spacing="0.61" fill="#0f0f0f" stroke="#0f0f0f" stroke-width="0.3">Trading</text>
<text id="m_tp2" x="103.90" y="805.20" font-size="19.30" fill="#0f0f0f" stroke="#0f0f0f" stroke-width="0.3">Panel</text>
</g>
</svg>
</body>
</html>
